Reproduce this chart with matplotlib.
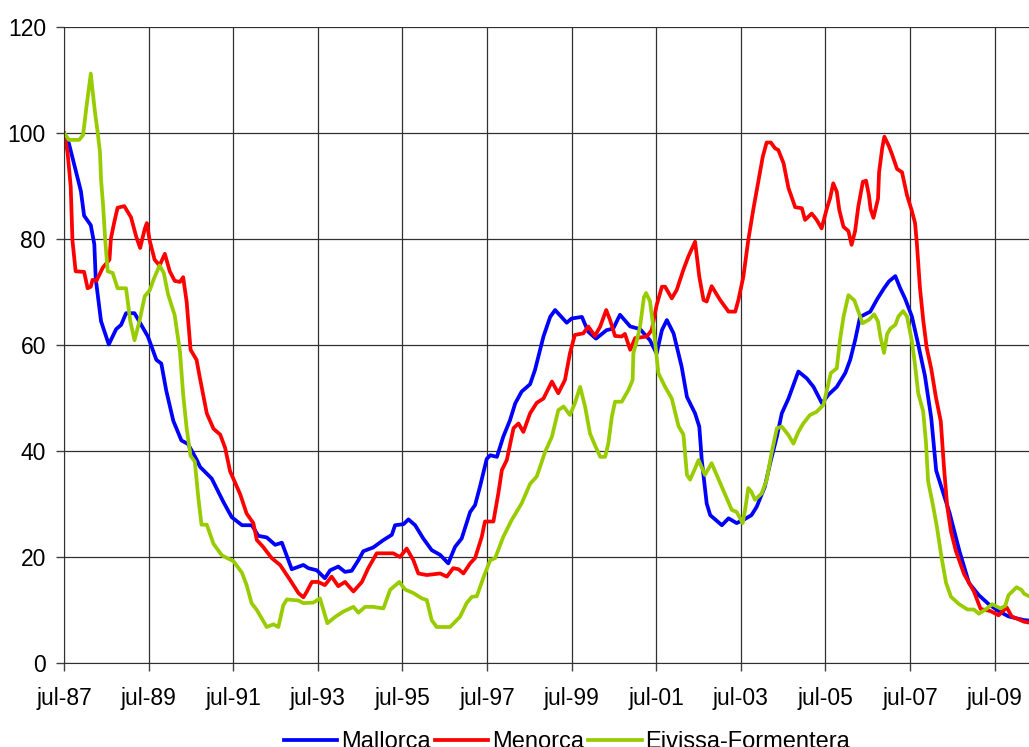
import matplotlib.pyplot as plt

# meses desde jul-87 y valores
meses_mallorca = [0, 1.4, 3.3, 4.8, 5.7, 7.6, 8.6, 9, 10.5, 12.7, 14.8, 16.2, 17.6, 20, 21.9, 23.8,
                  26.2, 27.6, 29, 31, 33.3, 35.2, 37.6, 38.6, 41.9, 45.2, 47.6, 50.5, 53.3, 55.1, 57.5,
                  59.9, 61.8, 64.6, 67.9, 69.3, 71.7, 74, 75.5, 77.8, 79.7, 81.6, 83.5, 84.9, 87.7,
                  90.6, 93, 93.9, 96.3, 97.7, 99.6, 101.9, 104.3, 106.7, 109, 110.9, 112.8, 115.2,
                  116.6, 118, 119.9, 120.9, 122.8, 124.6, 126.5, 128, 129.8, 132.2, 133.6, 136, 137.9,
                  139.3, 142.6, 144, 146.9, 148.7, 150.9, 153.9, 155.8, 157.7, 160.6, 163.4, 166.2,
                  168.1, 169.6, 171, 172.9, 175.2, 176.7, 179, 180.2, 180.9, 182.3, 183.3, 186.6,
                  188.5, 190.8, 192.7, 195, 196.5, 198.8, 200.3, 202.2, 203.6, 205.5, 207.4, 208.3,
                  210.7, 212.6, 215, 216.8, 219.2, 221.6, 223, 224.4, 225.8, 228.7, 230.7, 232.6, 234,
                  235.8, 237.2, 238.6, 240.5, 242.3, 244.2, 246, 247.4, 249.3, 251.2, 254, 256.7,
                  259.5, 262.3, 265.1, 267.9, 272.3, 274]
mallorca = [100, 98, 93, 89, 84.4, 82.6, 79, 72.5, 64.5, 60.1, 63, 63.8, 66, 66, 63.8, 61.6,
            57.2, 56.5, 51.4, 45.7, 42, 41.3, 38.4, 37, 34.8, 30.4, 27.5, 26, 26, 24, 23.7,
            22.3, 22.7, 17.7, 18.5, 17.9, 17.5, 16, 17.5, 18.2, 17.2, 17.4, 19.4, 21.1, 21.8,
            23.2, 24.2, 26, 26.2, 27.1, 26, 23.5, 21.3, 20.4, 18.8, 21.9, 23.5, 28.5,
            29.8, 33.3, 38.5, 39.2, 38.9, 42.7, 45.8, 49, 51.2, 52.6, 55.3, 61.6, 65.3,
            66.6, 64.2, 65, 65.3, 62.5, 61.2, 62.8, 63.1, 65.7, 63.5, 63, 60.9,
            58.4, 62.8, 64.7, 62.2, 55.9, 50.2, 47.1, 44.6, 38.3, 30.1, 27.9, 26,
            27.3, 26.4, 27, 27.9, 29.5, 33.3, 37.7, 42.7, 47.1, 49.9, 53.4, 55,
            53.7, 52.1, 49, 50.6, 52.1, 54.7, 57.2, 60.9, 65.3, 66.3, 68.7, 70.7, 72,
            73, 70.7, 68.7, 65.4, 60.1, 54.2, 46.2, 36.3, 32.3, 28.3, 21.1, 15.1,
            12.8, 11.1, 9.8, 8.8, 8.1, 8]

meses_menorca = [0, 1, 1.9, 2.4, 3.3, 5.7, 6.7, 7.6, 8.1, 9.2, 11, 12.9, 13.3, 14.3, 15.2, 17.1,
                 19, 20.5, 21.6, 22.9, 23.5, 24.3, 25.7, 27.1, 28.6, 30, 31.4, 32.9, 33.8, 34.8,
                 35.9, 37.6, 38.4, 40.5, 42.4, 44.3, 45.7, 47.1, 50, 51.8, 53.7, 54.7, 56.5, 58.9,
                 61.3, 64.1, 66.5, 67.9, 68.9, 70.3, 72.1, 74, 75.9, 77.8, 79.7, 82.1, 84.5, 86.3,
                 88.7, 90.6, 93.4, 95.3, 97.2, 99.1, 100.5, 102.9, 106.7, 108.6, 110.4, 111.9,
                 113.3, 115.2, 116.6, 118.5, 119.4, 121.8, 123.2, 124.2, 125.6, 127.5, 128.9,
                 130.3, 132.2, 134.1, 136, 138.4, 140.2, 142.1, 143.5, 144.9, 147.3, 148.7,
                 150.6, 152.1, 153.8, 154.9, 156.3, 158.2, 159.1, 160.6, 162, 165.3, 166.7,
                 168.1, 169.6, 170.5, 172.4, 173.8, 175.7, 177.1, 179, 180.2, 181.4, 182.3,
                 183.7, 186.1, 188.5, 190.4, 191.3, 192.7, 194.1, 195.5, 197, 198.2, 199.3,
                 200.5, 201.7, 202.6, 204.1, 205.5, 207.4, 209.3, 210.2, 212.1, 213.5, 214.9,
                 216.4, 217.3, 218.2, 219.2, 219.9, 221.1, 222.5, 223.4, 224.4, 225.3, 226.6,
                 227.5, 228.3, 228.8, 229.6, 230.9, 231.2, 232.1, 232.7, 234, 234.9, 236.3,
                 237.7, 239.1, 240.5, 241.4, 241.9, 242.8, 243.7, 244.7, 246, 247.3, 248.7,
                 249.6, 250.5, 251.6, 253, 255.3, 258.1, 260, 262.8, 265.1, 267.4, 268.8,
                 272.3, 274]
menorca = [100, 96.4, 89.9, 79.7, 73.9, 73.8, 70.7, 71, 72.3, 72.1, 74.6, 76.1, 80.1, 83.3, 85.9, 86.2,
           84.1, 80.4, 78.3, 81.9, 83, 79.7, 76.1, 75, 77.2, 73.9, 72.1, 71.9, 72.8, 68.1,
           59.1, 57.2, 54.3, 47.1, 44.2, 43.1, 40.6, 36.2, 31.8, 28.2, 26.4, 23.2, 21.9, 19.8,
           18.5, 15.7, 13.2, 12.4, 13.5, 15.3, 15.3, 14.7, 16.3, 14.5, 15.3, 13.5, 15.3, 17.9,
           20.7, 20.7, 20.7, 20, 21.6, 19.4, 16.9, 16.6, 16.9, 16.3, 17.9, 17.7,
           16.9, 18.8, 19.8, 23.8, 26.7, 26.7, 32, 36.4, 38.3, 44.3, 45.2,
           43.6, 47.1, 49.1, 49.9, 53.1, 50.9, 53.4, 58.4, 61.9, 62.2, 63.5,
           61.7, 63.5, 66.6, 64.7, 61.7, 61.6, 62.1, 59.1, 61.3, 61.6, 62.8,
           67.5, 71, 71, 68.8, 70.4, 74.2, 76.7, 79.5, 72.9, 68.5, 68.2,
           71.1, 68.5, 66.3, 66.3, 68.5, 72.9, 79.8, 85.5, 91.1, 95.5, 98.2,
           98.2, 97.1, 96.8, 94.3, 89.6, 86, 85.8, 83.6, 84.8, 83.6, 82,
           85.8, 87.7, 90.5, 88.9, 85.5, 82.3, 81.5, 78.9, 81.5, 86.1, 90.8,
           91, 88.3, 85.6, 84, 87.6, 92.6, 97.2, 99.3, 97.5, 95.9, 93.2,
           92.6, 88.3, 85.3, 83, 79.3, 70.7, 64.8, 59.5, 55.5, 50.2, 45.6,
           37, 29.7, 24.8, 21.1, 16.8, 13.5, 10.2, 9.8, 9, 10.5, 8.8,
           7.8, 7.6]

meses_eivissa = [0, 1.4, 4.3, 5.4, 6.4, 7.1, 7.6, 8.1, 8.9, 9.5, 10.2, 10.5, 11.1, 11.7, 12.4, 13.8,
                 15.2, 17.6, 18.8, 20, 21.4, 22.9, 24.3, 25.5, 27.1, 28.3, 29.5, 31.4, 32.9, 33.8,
                 34.8, 35.9, 37.1, 38.1, 39, 40.5, 42.4, 44.8, 48.1, 50.5, 51.8, 53.2, 54.7, 57.5,
                 59.4, 60.8, 62.2, 63.2, 66.5, 67.9, 70.7, 72.6, 73.6, 74.7, 76.9, 79.2, 82.1, 83.5,
                 85.4, 87.7, 90.6, 92.5, 95.1, 96.7, 99.1, 101.5, 102.9, 104.3, 105.7, 109.5, 112.3,
                 114.2, 115.7, 117.1, 119, 120.9, 122.3, 124.6, 127, 129.8, 132.2, 134.1, 136.5,
                 138.4, 140.2, 141.7, 143.5, 144.9, 146.4, 147.8, 149.2, 150.6, 152.1, 153.5, 154.4,
                 155.4, 156.3, 158.2, 160.1, 161.3, 161.5, 162.5, 163.4, 164.5, 165.1, 166.2, 167.4,
                 168.6, 170.5, 172.4, 174.3, 175.7, 176.7, 177.6, 178.6, 180, 181.8, 183.7, 187,
                 189.4, 190.8, 192.5, 193.2, 194.1, 195, 196, 197.9, 199.3, 200.7, 202.2, 203.6,
                 205.5, 206.9, 208.3, 209.7, 211.6, 213.5, 215.4, 216.4, 217.5, 219.2, 220.1, 221.1,
                 222.5, 224.2, 225.6, 226.5, 228.4, 229.8, 230.9, 231.6, 232.6, 233.5, 234.4, 235.8,
                 236.7, 238, 239.1, 240.5, 241.4, 242.3, 243.7, 244.5, 245.1, 246.5, 247.6, 248.8,
                 250.2, 251.6, 253.9, 256.3, 258.1, 259.5, 261.4, 263.3, 265.6, 267, 267.9, 270.2,
                 271.6, 272.3, 274]
eivissa = [100, 98.7, 98.7, 99.6, 105.1, 108.7, 111.2, 108, 103.3, 100.4, 96.4, 91.3, 86.2, 79.7, 73.9, 73.6,
           70.7, 70.7, 64.5, 60.9, 64.5, 69.2, 70.3, 72.5, 75, 73.6, 69.6, 65.6, 58.7, 50.7,
           44.2, 39.1, 38, 31.2, 26.1, 26.1, 22.5, 20.3, 19.2, 17, 14.7, 11.3, 10, 6.8,
           7.3, 6.8, 10.9, 12, 11.8, 11.3, 11.4, 12.2, 10, 7.5, 8.7, 9.7, 10.6, 9.5,
           10.6, 10.6, 10.3, 13.8, 15.3, 13.9, 13.2, 12.2, 11.9, 8.1, 6.8, 6.8, 8.7,
           11.3, 12.5, 12.6, 16.2, 19.4, 19.8, 23.8, 27, 30.1, 33.8, 35.2, 39.9,
           42.7, 47.7, 48.4, 46.8, 49, 52.1, 48.4, 43.3, 41.1, 38.9, 38.9, 41.4,
           46.5, 49.3, 49.3, 51.5, 53.4, 58.4, 60.9, 63.5, 69, 69.8, 68.3, 62.2,
           54.7, 52.1, 49.9, 44.7, 43.1, 35.5, 34.6, 36.1, 38.3, 35.5, 37.7, 32.6,
           28.9, 28.5, 26.4, 28.9, 33, 32.3, 30.8, 32, 34.5, 39.6, 44.3, 44.6,
           43, 41.4, 43.6, 45.2, 46.8, 47.4, 48.7, 51.5, 54.7, 55.6, 60.9, 65.3,
           69.4, 68.4, 65.8, 64.1, 64.8, 65.8, 64.4, 61.5, 58.5, 62.1, 63.1, 63.8,
           65.4, 66.4, 65.4, 60.8, 56.2, 50.9, 47.5, 41.6, 34.3, 29.7, 25.7, 20.4,
           15.1, 12.5, 11.1, 10.1, 10.1, 9.3, 10.1, 11.1, 10.3, 10.8, 12.8, 14.3,
           13.8, 13.1, 12.5]

posiciones_ticks = [0, 24, 48, 72, 96, 120, 144, 168, 192, 216, 240, 264]
etiquetas_ticks = ['jul-87', 'jul-89', 'jul-91', 'jul-93', 'jul-95', 'jul-97',
                   'jul-99', 'jul-01', 'jul-03', 'jul-05', 'jul-07', 'jul-09']

plt.rcParams['font.family'] = ['Liberation Sans', 'DejaVu Sans']

fig = plt.figure(figsize=(10.29, 7.47), dpi=100)
# el area del grafico sigue mas alla del borde derecho, como en el original
ax = fig.add_axes([0.0622, 0.1124, 0.9456, 0.8515])

ax.plot(meses_mallorca, mallorca, color='#0000FF', lw=2.7, label='Mallorca')
ax.plot(meses_menorca, menorca, color='#FF0000', lw=2.7, label='Menorca')
ax.plot(meses_eivissa, eivissa, color='#99CC00', lw=2.7, label='Eivissa-Formentera')

ax.set_xlim(0, 276)
ax.set_ylim(0, 120)
ax.set_yticks(range(0, 121, 20))
ax.set_xticks(posiciones_ticks)
ax.set_xticklabels(etiquetas_ticks)
ax.tick_params(axis='both', labelsize=16.5, length=6, width=1, color='#404040')
ax.tick_params(axis='x', pad=11)
ax.tick_params(axis='y', pad=7)
ax.grid(True, color='#303030', lw=0.9)
ax.set_axisbelow(True)

for lado in ['right', 'top']:
    ax.spines[lado].set_visible(False)
ax.spines['left'].set_color('#303030')
ax.spines['bottom'].set_color('#303030')

# la leyenda queda cortada por abajo, igual que en la imagen original
fig.legend(loc='center', bbox_to_anchor=(0.551, 0.007), ncol=3, frameon=False,
           fontsize=17, handlelength=2.25, handletextpad=0.15, columnspacing=0.2)

fig.savefig('out.png', dpi=100)
